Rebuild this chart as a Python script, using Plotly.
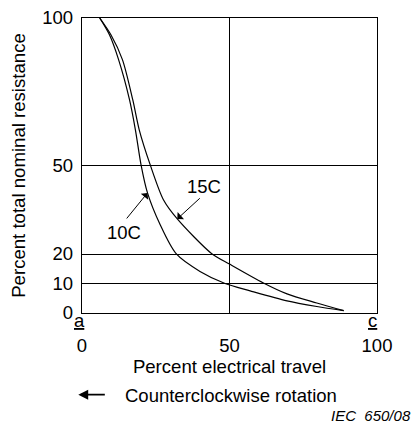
import plotly.graph_objects as go

# (percent travel vs percent resistance)
travel_10c = [6, 9.3, 12.4, 16.1, 18.1, 20.0, 22.2, 26.5, 31.9, 40.0, 48.5, 57.0, 69.5, 79.6, 88.7]
resist_10c = [100, 94.3, 85.9, 72.3, 62.1, 50.3, 40.7, 29.9, 20.1, 14.1, 10.0, 7.5, 4.1, 2.2, 0.8]

travel_15c = [6, 9.8, 13.7, 17.2, 19.4, 23.1, 27.6, 32.3, 44.0, 50.0, 61.5, 69.5, 79.6, 88.7]
resist_15c = [100, 94.3, 85.9, 72.3, 62.1, 50.3, 38.4, 31.9, 20.1, 16.6, 10.2, 6.5, 3.4, 0.8]

x_ticks = [0, 50, 100]
y_ticks = [0, 10, 20, 50, 100]

FONT = dict(family="Liberation Sans, Arial, sans-serif", size=18.5, color="black")
TITLE_FONT = dict(FONT, size=18.6)

fig = go.Figure()
for name, xs, ys in [("10C", travel_10c, resist_10c), ("15C", travel_15c, resist_15c)]:
    fig.add_scatter(x=xs, y=ys, name=name, mode="lines",
                    line=dict(color="black", width=1.2, shape="spline", smoothing=0.8))

# curve labels and their pointer arrows
fig.add_annotation(x=22.2, y=40.7, ax=-22, ay=27, text="", showarrow=True,
                   arrowhead=1, arrowsize=1.6, arrowwidth=1, arrowcolor="black")
fig.add_annotation(x=14.3, y=27.2, text="10C", showarrow=False, font=FONT)
fig.add_annotation(x=32.3, y=31.9, ax=24, ay=-22, text="", showarrow=True,
                   arrowhead=1, arrowsize=1.6, arrowwidth=1, arrowcolor="black")
fig.add_annotation(x=41.4, y=42.8, text="15C", showarrow=False, font=FONT)

# stuff below the plot area goes in paper coords (data refs get hidden outside range)
paper = dict(xref="paper", yref="paper", showarrow=False, font=FONT,
             xanchor="center", yanchor="middle")
fig.add_annotation(paper, x=-0.0085, y=-0.026, text="<u>a</u>")
fig.add_annotation(paper, x=0.986, y=-0.026, text="<u>c</u>")
fig.add_annotation(xref="paper", yref="paper", x=-0.0125, y=-0.277, ax=28, ay=0, text="",
                   showarrow=True, arrowhead=2, arrowsize=1.1, arrowwidth=1.8, arrowcolor="black")
fig.add_annotation(paper, x=0.14, y=-0.278, xanchor="left", text="Counterclockwise rotation")
fig.add_annotation(paper, x=1.122, y=-0.348, xanchor="right",
                   text="<i>IEC&nbsp;&nbsp;650/08</i>", font=dict(FONT, size=15))

axis_style = dict(showline=True, mirror=True, linecolor="black", linewidth=1.3,
                  showgrid=True, gridcolor="black", gridwidth=1.3, zeroline=False,
                  ticks="", tickfont=FONT, fixedrange=True, automargin=False,
                  ticklabeloverflow="allow")

fig.update_xaxes(axis_style, range=[0, 100], tickvals=x_ticks, ticklabelstandoff=16,
                 title=dict(text="Percent electrical travel", font=TITLE_FONT, standoff=4))
fig.update_yaxes(axis_style, range=[0, 100], tickvals=y_ticks, ticklabelstandoff=4,
                 title=dict(text="Percent total nominal resistance", font=TITLE_FONT, standoff=16))

# page body has an 8px margin, so the figure is shrunk/shifted by that much
fig.update_layout(width=411, height=418, showlegend=False,
                  margin=dict(l=74, r=42, t=10, b=113),
                  plot_bgcolor="white", paper_bgcolor="white")

fig.write_html("out.html")
